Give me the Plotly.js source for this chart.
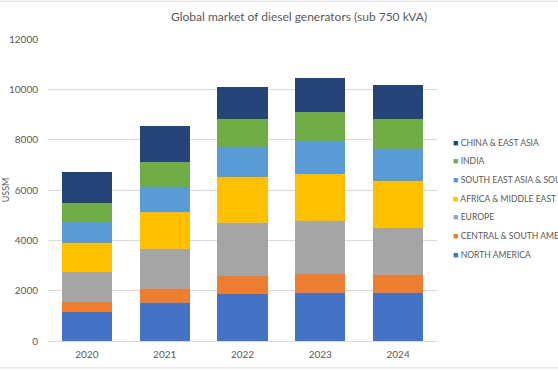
<!DOCTYPE html>
<html>
<head>
<meta charset="utf-8">
<script src="https://cdn.plot.ly/plotly-3.0.1.min.js"></script>
<style>html,body{margin:0;padding:0;background:#fff;}#chart{width:558px;height:370px;}</style>
</head>
<body>
<div id="chart"></div>
<script>
const years = ['2020', '2021', '2022', '2023', '2024'];
const northAmerica   = [1170, 1500, 1855, 1920, 1895];
const centralSouthAm = [380, 580, 740, 730, 740];
const europe         = [1180, 1565, 2080, 2105, 1855];
const africaMidEast  = [1180, 1495, 1830, 1890, 1865];
const seaSouthAsia   = [830, 990, 1190, 1285, 1285];
const india          = [760, 1000, 1125, 1180, 1180];
const chinaEastAsia  = [1200, 1420, 1260, 1340, 1340];

const seriesNames = ['NORTH AMERICA', 'CENTRAL & SOUTH AMERICA', 'EUROPE', 'AFRICA & MIDDLE EAST', 'SOUTH EAST ASIA & SOUTH ASIA', 'INDIA', 'CHINA & EAST ASIA'];
const seriesValues = [northAmerica, centralSouthAm, europe, africaMidEast, seaSouthAsia, india, chinaEastAsia];
const colors = ['#4472C4', '#ED7D31', '#A5A5A5', '#FFC000', '#5B9BD5', '#70AD47', '#264478'];

const font = 'Lato, "Open Sans", sans-serif';
const traces = seriesNames.map((n, i) => ({
  type: 'bar', name: n, x: years, y: seriesValues[i],
  marker: {color: colors[i], line: {width: 0}},
  hoverinfo: 'none', showlegend: false
}));

// Legend drawn as annotations (top item = last series)
const plotL = 48, plotW = 389, plotBottom = 341, plotH = 302;
const legendItems = seriesNames.map((n, i) => i).reverse();
const annotations = legendItems.map((si, k) => ({
  xref: 'paper', yref: 'paper',
  x: (451 - plotL) / plotW, xanchor: 'left',
  y: (plotBottom - (142 + k * 18.7)) / plotH, yanchor: 'middle',
  showarrow: false, align: 'left',
  text: '<span style="color:' + colors[si] + ';font-size:9px">■</span> ' + seriesNames[si],
  font: {family: font, size: 8.6, color: '#595959'}
}));

const layout = {
  width: 558, height: 370,
  margin: {l: 48, r: 121, t: 39, b: 29, autoexpand: false},
  paper_bgcolor: '#ffffff', plot_bgcolor: '#ffffff',
  barmode: 'stack', bargap: 0.357,
  font: {family: font, color: '#595959', size: 10},
  showlegend: false,
  title: {text: 'Global market of diesel generators (sub 750 kVA)', x: 0.536, xanchor: 'center', y: 0.955, yanchor: 'middle', font: {family: font, size: 12, color: '#595959'}},
  xaxis: {type: 'category', showgrid: false, showline: true, linecolor: '#d9d9d9', linewidth: 1, ticks: '', ticklabelstandoff: 4, tickfont: {size: 10, color: '#595959'}, fixedrange: true},
  yaxis: {range: [0, 12000], dtick: 2000, tickformat: 'd', showgrid: true, gridcolor: '#d9d9d9', gridwidth: 1, zeroline: false, showline: false, ticks: '', ticklabelstandoff: 9,
          tickfont: {size: 10, color: '#595959'}, automargin: false,
          title: {text: 'USSM', standoff: 4, font: {size: 9, color: '#595959'}}},
  annotations: annotations,
  shapes: [
    {type: 'line', xref: 'paper', yref: 'paper', x0: -0.2, x1: 1.4, y0: 1.125, y1: 1.125, line: {color: '#d9d9d9', width: 1}},
    {type: 'line', xref: 'paper', yref: 'paper', x0: -0.2, x1: 1.4, y0: -0.089, y1: -0.089, line: {color: '#d9d9d9', width: 1}}
  ]
};

Plotly.newPlot('chart', traces, layout, {staticPlot: true, displayModeBar: false});
</script>
</body>
</html>
